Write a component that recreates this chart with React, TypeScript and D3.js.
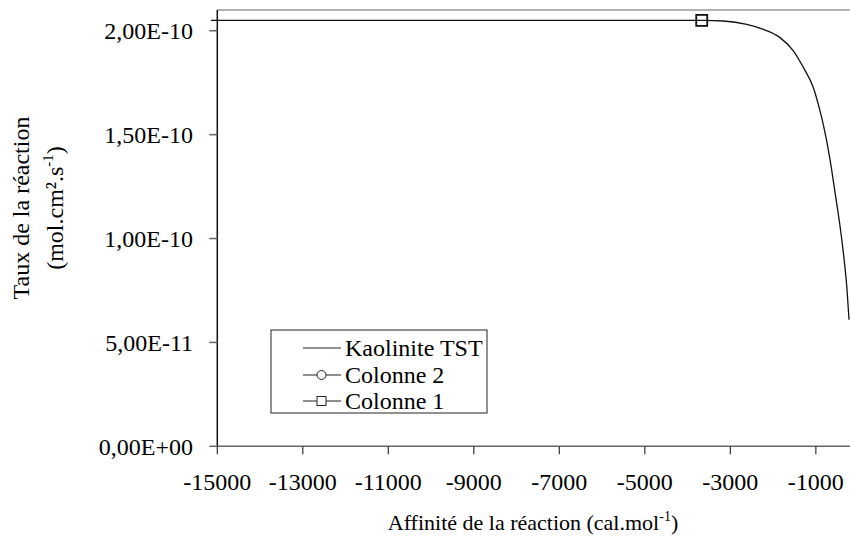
import React from "react";
import * as d3 from "d3";

const affinite = [-15150, -12000, -9000, -6000, -4500, -3669, -3164, -2616, -2228, -1837, -1526, -1292, -1058, -901, -825, -668, -551, -434, -357, -277, -223];
const taux = [2.05e-10, 2.05e-10, 2.05e-10, 2.05e-10, 2.05e-10, 2.05e-10, 2.047e-10, 2.031e-10, 2.007e-10, 1.967e-10, 1.903e-10, 1.823e-10, 1.726e-10, 1.613e-10, 1.548e-10, 1.38e-10, 1.221e-10, 1.059e-10, 0.932e-10, 0.77e-10, 0.609e-10];
const colonne1X = [-3669];
const colonne1Y = [2.05e-10];
const xTicks = [-15000, -13000, -11000, -9000, -7000, -5000, -3000, -1000];
const yTicks = [0, 5e-11, 1e-10, 1.5e-10, 2e-10];
const yTickLabels = ["0,00E+00", "5,00E-11", "1,00E-10", "1,50E-10", "2,00E-10"];
const legendLabels = ["Kaolinite TST", "Colonne 2", "Colonne 1"];

const W = 850, H = 548;
const FONT = '"Liberation Serif", "Times New Roman", Times, serif';

export default function App() {
  const x = d3.scaleLinear().domain([-15000, 0]).range([217.3, 858.6]);
  const y = d3.scaleLinear().domain([0, 2.1e-10]).range([446.3, 10]);
  const line = d3.line<number>().x((_, i) => x(affinite[i])).y((d) => y(d)).curve(d3.curveMonotoneX);
  const x0 = x(-15000), x1 = W;
  const lx = 271, ly = 330, lw = 216, lh = 83;
  const rowY = [348, 375, 401];
  const ts = { fontFamily: FONT };
  return (
    <svg width={W} height={H} style={{ position: "absolute", left: 0, top: 0, background: "#fff", fontFamily: FONT }}>
      <line x1={x0} x2={x1} y1={y(2.1e-10)} y2={y(2.1e-10)} stroke="#999" strokeWidth={1.5} />
      <line x1={x0} x2={x0} y1={y(2.1e-10)} y2={y(0)} stroke="#111" strokeWidth={1.5} />
      {yTicks.map((t, i) => (
        <g key={i}>
          <line x1={x0 - 8} x2={x0} y1={y(t)} y2={y(t)} stroke="#666" strokeWidth={1.5} />
          <text x={193} y={y(t)} dy="0.35em" textAnchor="end" fontSize={24} style={ts}>{yTickLabels[i]}</text>
        </g>
      ))}
      <line x1={x0} x2={x1} y1={y(0)} y2={y(0)} stroke="#666" strokeWidth={1.5} />
      {xTicks.map((t, i) => (
        <g key={i}>
          <line x1={x(t)} x2={x(t)} y1={y(0)} y2={y(0) + 8} stroke="#333" strokeWidth={1.2} />
          <text x={x(t)} y={y(0) + 44} textAnchor="middle" fontSize={24} style={ts}>{t}</text>
        </g>
      ))}
      <path d={line(taux) || ""} fill="none" stroke="#111" strokeWidth={1.3} />
      {colonne1X.map((v, i) => (
        <rect key={i} x={x(v) - 5.5} y={y(colonne1Y[i]) - 5.5} width={11} height={11} fill="none" stroke="#111" strokeWidth={1.8} />
      ))}
      <rect x={lx} y={ly} width={lw} height={lh} fill="#fff" stroke="#222" strokeWidth={1} />
      {legendLabels.map((lab, i) => (
        <g key={i}>
          <line x1={303} x2={341} y1={rowY[i]} y2={rowY[i]} stroke="#222" strokeWidth={1} />
          {i === 1 && <circle cx={321.5} cy={rowY[i]} r={4.5} fill="#fff" stroke="#222" strokeWidth={1} />}
          {i === 2 && <rect x={317} y={rowY[i] - 4.5} width={9} height={9} fill="#fff" stroke="#222" strokeWidth={1} />}
          <text x={345} y={rowY[i]} dy="0.33em" fontSize={24} style={ts}>{lab}</text>
        </g>
      ))}
      <text x={533} y={530} textAnchor="middle" fontSize={22} style={ts}>
        Affinité  de la réaction (cal.mol<tspan dy={-9} fontSize={14}>-1</tspan><tspan dy={9}>)</tspan>
      </text>
      <g transform="translate(29,208) rotate(-90)">
        <text x={0} y={0} textAnchor="middle" fontSize={24} style={ts}>Taux de la réaction</text>
      </g>
      <g transform="translate(63,208) rotate(-90)">
        <text x={0} y={0} textAnchor="middle" fontSize={24} style={ts}>
          (mol.cm².s<tspan dy={-10} fontSize={15}>-1</tspan><tspan dy={10}>)</tspan>
        </text>
      </g>
    </svg>
  );
}
